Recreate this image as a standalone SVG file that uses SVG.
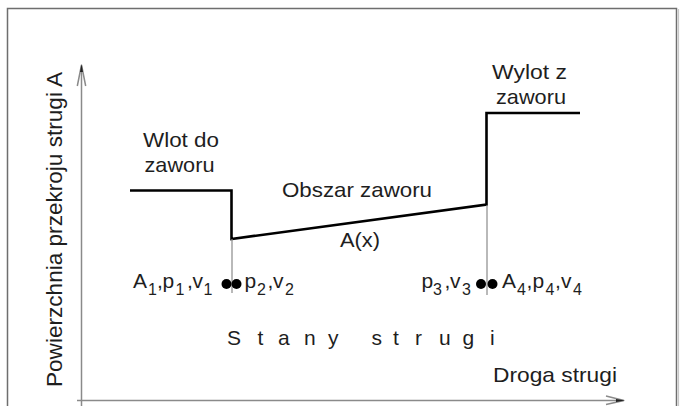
<svg xmlns="http://www.w3.org/2000/svg" width="681" height="406" viewBox="0 0 681 406">
<style>
text{font-family:"Liberation Sans",Arial,sans-serif;fill:#1e1e1e}
.t{font-size:21px}
.m{font-size:21px}
.s{font-size:16px}
.frame{fill:none;stroke:#6e6e6e;stroke-width:1.5}
.axis{fill:none;stroke:#8a8a8a;stroke-width:1.5}
.prof{fill:none;stroke:#000;stroke-width:2.6;stroke-linejoin:miter}
.thin{fill:none;stroke:#8a8a8a;stroke-width:1.2}
.dot{fill:#000}
</style>
<rect width="681" height="406" fill="#fff"/>
<path class="frame" d="M7.5,406 V8.5 H676.5 V406"/>
<line x1="678.5" y1="9" x2="678.5" y2="406" stroke="#c8c8c8" stroke-width="1.2"/>
<g id="axes">
<path class="axis" d="M81.5,406 V66"/>
<path class="axis" d="M77.3,86 L81.5,65 L85.7,86"/>
<path d="M80,72 L81.5,64 L83,72 Z" fill="#222"/>
<path class="axis" d="M77,400.5 H623"/>
<path class="axis" d="M606,396 L624,400.5 L606,404.5"/>
<path d="M616,399 L625,400.5 L616,402 Z" fill="#222"/>
<text id="ylabel" transform="translate(62,387) rotate(-90)" font-size="22.5" textLength="315" lengthAdjust="spacingAndGlyphs">Powierzchnia przekroju strugi A</text>
<text class="t" x="493" y="381.5" textLength="124" lengthAdjust="spacingAndGlyphs">Droga strugi</text>
</g>
<g id="connectors">
<path class="prof" d="M130,190.5 H231.5 V239 L486.5,204.5 V113 H580"/>
<path class="thin" d="M232,239 V293"/>
<path class="thin" d="M487,205 V295"/>
</g>
<g id="inlet">
<text class="t" x="143" y="147" textLength="76" lengthAdjust="spacingAndGlyphs">Wlot do</text>
<text class="t" x="144.5" y="172" textLength="70" lengthAdjust="spacingAndGlyphs">zaworu</text>
</g>
<g id="outlet">
<text class="t" x="492" y="79" textLength="75" lengthAdjust="spacingAndGlyphs">Wylot z</text>
<text class="t" x="496" y="104" textLength="70" lengthAdjust="spacingAndGlyphs">zaworu</text>
</g>
<g id="valve">
<text class="t" x="282" y="196.5" textLength="150" lengthAdjust="spacingAndGlyphs">Obszar zaworu</text>
<text class="t" x="340" y="247" textLength="40" lengthAdjust="spacingAndGlyphs">A(x)</text>
</g>
<g id="state12">
<circle class="dot" cx="226.5" cy="284" r="5"/>
<circle class="dot" cx="236.5" cy="284" r="5"/>
<text class="m" y="287.5"><tspan x="133">A</tspan><tspan class="s" x="148" dy="7">1</tspan><tspan x="157" dy="-7">,</tspan><tspan x="162.5">p</tspan><tspan class="s" x="175.5" dy="7">1</tspan><tspan x="187" dy="-7">,</tspan><tspan x="192.5">v</tspan><tspan class="s" x="203.5" dy="7">1</tspan></text>
<text class="m" y="287.5"><tspan x="244.5">p</tspan><tspan class="s" x="257" dy="7">2</tspan><tspan x="267.5" dy="-7">,</tspan><tspan x="273">v</tspan><tspan class="s" x="285" dy="7">2</tspan></text>
</g>
<g id="state34">
<circle class="dot" cx="481" cy="284" r="5"/>
<circle class="dot" cx="492.5" cy="284" r="5"/>
<text class="m" y="287.5"><tspan x="421.5">p</tspan><tspan class="s" x="433" dy="7">3</tspan><tspan x="444.5" dy="-7">,</tspan><tspan x="450">v</tspan><tspan class="s" x="462" dy="7">3</tspan></text>
<text class="m" y="287.5"><tspan x="502">A</tspan><tspan class="s" x="517" dy="7">4</tspan><tspan x="526.5" dy="-7">,</tspan><tspan x="532.5">p</tspan><tspan class="s" x="545.5" dy="7">4</tspan><tspan x="555" dy="-7">,</tspan><tspan x="561">v</tspan><tspan class="s" x="573" dy="7">4</tspan></text>
</g>
<g id="states">
<text class="t" xml:space="preserve" style="white-space:pre" y="345" x="227 245 257.6 268 278 291 304 316 328 340 350 360 371.5 382 393 404 415 427 439 451 462.6 476 490">S t a n y   s t r u g i</text>
</g>
</svg>
